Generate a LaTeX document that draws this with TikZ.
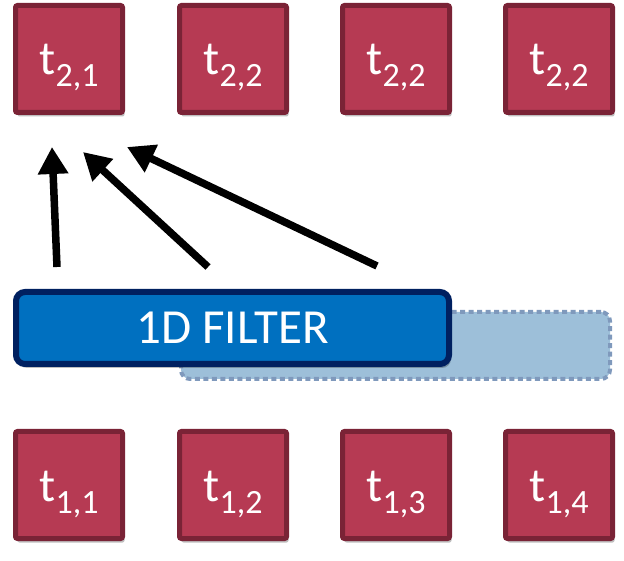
\documentclass[tikz,border=0pt]{standalone}
\usepackage{fontspec}
\setmainfont{Carlito}
\usetikzlibrary{arrows.meta,shadows}
\definecolor{boxfill}{HTML}{B63A53}
\definecolor{boxline}{HTML}{7A2336}
\definecolor{filtfill}{HTML}{0070C0}
\definecolor{filtline}{HTML}{002060}
\definecolor{ghostfill}{HTML}{9DBFD9}
\definecolor{ghostline}{HTML}{7F99BC}
\tikzset{
  tbox/.style={draw=boxline, fill=boxfill, line width=5pt, rounded corners=2pt,
    minimum size=107pt, inner sep=0pt, text=white, text height=40pt, text depth=8pt,
    drop shadow={shadow xshift=2pt, shadow yshift=-4pt, opacity=0.25, fill=black}},
  filt/.style={draw=filtline, fill=filtfill, line width=6pt, rounded corners=9pt,
    minimum width=433pt, minimum height=72pt, inner sep=0pt, text=white,
    font=\fontsize{49}{49}\selectfont,
    drop shadow={shadow xshift=2pt, shadow yshift=-4pt, opacity=0.25, fill=black}},
  ghost/.style={draw=ghostline, fill=ghostfill, line width=4pt, rounded corners=9pt,
    dash pattern=on 5pt off 3.5pt, minimum width=429pt, minimum height=67pt, inner sep=0pt},
  arr/.style={line width=7.5pt, -{Triangle[width=29pt,length=27pt]}}
}
\newcommand{\tlab}[1]{{\fontsize{48}{48}\selectfont t\raisebox{-12pt}{\fontsize{34}{34}\selectfont #1}}}
\begin{document}
\begin{tikzpicture}[x=1pt,y=1pt]
\useasboundingbox (0,0) rectangle (624,560);
% top row
\node[tbox] (t21) at (69,501) {\tlab{2,1}};
\node[tbox] (t22) at (233,501) {\tlab{2,2}};
\node[tbox] (t23) at (396,501) {\tlab{2,2}};
\node[tbox] (t24) at (559,501) {\tlab{2,2}};
% bottom row
\node[tbox] (t11) at (69,75) {\tlab{1,1}};
\node[tbox] (t12) at (233,75) {\tlab{1,2}};
\node[tbox] (t13) at (396,75) {\tlab{1,3}};
\node[tbox] (t14) at (559,75) {\tlab{1,4}};
% filter and its shifted ghost
\node[ghost] (ghost) at (395.5,214.5) {};
\node[filt] (filter) at (232.5,232) {1D FILTER};
% arrows
\coordinate (a1s) at (57,293);
\coordinate (a1e) at (52,413);
\coordinate (a2s) at (208,293);
\coordinate (a2e) at (83,408);
\coordinate (a3s) at (377,294);
\coordinate (a3e) at (127,413);
\draw[arr] (a1s) -- (a1e);
\draw[arr] (a2s) -- (a2e);
\draw[arr] (a3s) -- (a3e);
\end{tikzpicture}
\end{document}
